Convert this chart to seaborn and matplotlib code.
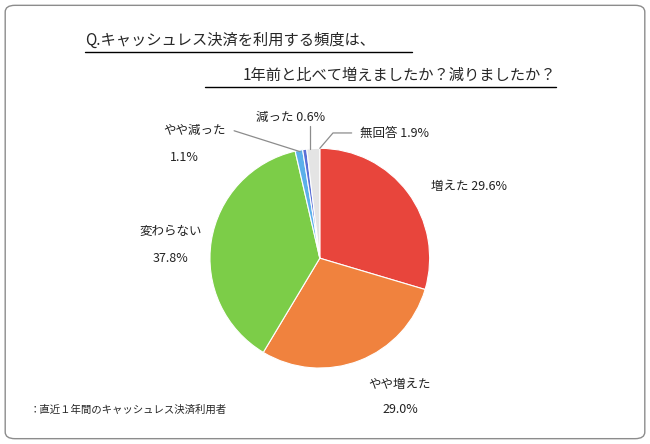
import matplotlib
matplotlib.use("Agg")
import matplotlib.pyplot as plt
import seaborn as sns
from matplotlib.lines import Line2D
from matplotlib.patches import FancyBboxPatch

sns.set_theme(style="white")
plt.rcParams['font.family'] = ['Noto Sans CJK JP', 'DejaVu Sans']

labels = ['増えた', 'やや増えた', '変わらない', 'やや減った', '減った', '無回答']
values = [29.6, 29.0, 37.8, 1.1, 0.6, 1.9]
colors = ['#e8453c', '#f0823e', '#7ccd48', '#5bb0ea', '#5a6fd6', '#e4e4e4']

fig = plt.figure(figsize=(6.5, 4.44), dpi=100)
fig.patch.set_facecolor('white')
fig.add_artist(FancyBboxPatch((0.008, 0.012), 0.984, 0.976, boxstyle="round,pad=0,rounding_size=0.015",
                              transform=fig.transFigure, fill=False, ec='#8c8c8c', lw=1))

ax = fig.add_axes([0.323, 0.171, 0.338, 0.495])
ax.pie(values, colors=colors, startangle=90, counterclock=False,
       wedgeprops=dict(edgecolor='white', linewidth=0.8))
ax.set_xlim(-1, 1)
ax.set_ylim(-1, 1)
ax.set_aspect('equal')
ax.axis('off')

kw = dict(fontsize=9, color='#222222', ha='center', va='center', clip_on=False)
ax.text(1.36, 0.65, f'{labels[0]} {values[0]}%', **kw)
ax.text(0.73, -1.15, labels[1], **kw)
ax.text(0.73, -1.38, f'{values[1]}%', **kw)
ax.text(-1.36, 0.24, labels[2], **kw)
ax.text(-1.36, 0.0, f'{values[2]}%', **kw)
ax.text(-1.14, 1.16, labels[3], **kw)
ax.text(-1.23, 0.92, f'{values[3]}%', **kw)
ax.text(-0.27, 1.28, f'{labels[4]} {values[4]}%', **kw)
ax.text(0.68, 1.14, f'{labels[5]} {values[5]}%', **kw)

lc = '#8c8c8c'
ax.plot([-0.78, -0.18], [1.16, 0.97], color=lc, lw=0.9, clip_on=False)
ax.plot([-0.09, -0.09], [1.20, 0.99], color=lc, lw=0.9, clip_on=False)
ax.plot([0.29, 0.12, 0.0], [1.14, 1.14, 1.0], color=lc, lw=0.9, clip_on=False)

fig.text(85 / 650, 1 - 40 / 444, 'Q.キャッシュレス決済を利用する頻度は、', fontsize=11, ha='left', va='center')
fig.text(556 / 650, 1 - 75 / 444, '1年前と比べて増えましたか？減りましたか？', fontsize=11, ha='right', va='center')
fig.add_artist(Line2D([85 / 650, 412 / 650], [1 - 52 / 444] * 2, color='black', lw=1))
fig.add_artist(Line2D([205 / 650, 556 / 650], [1 - 87 / 444] * 2, color='black', lw=1))

fig.text(30 / 650, 1 - 410 / 444, '：直近１年間のキャッシュレス決済利用者', fontsize=7.5, ha='left', va='center')

fig.savefig('out.png', dpi=100, facecolor='white')
